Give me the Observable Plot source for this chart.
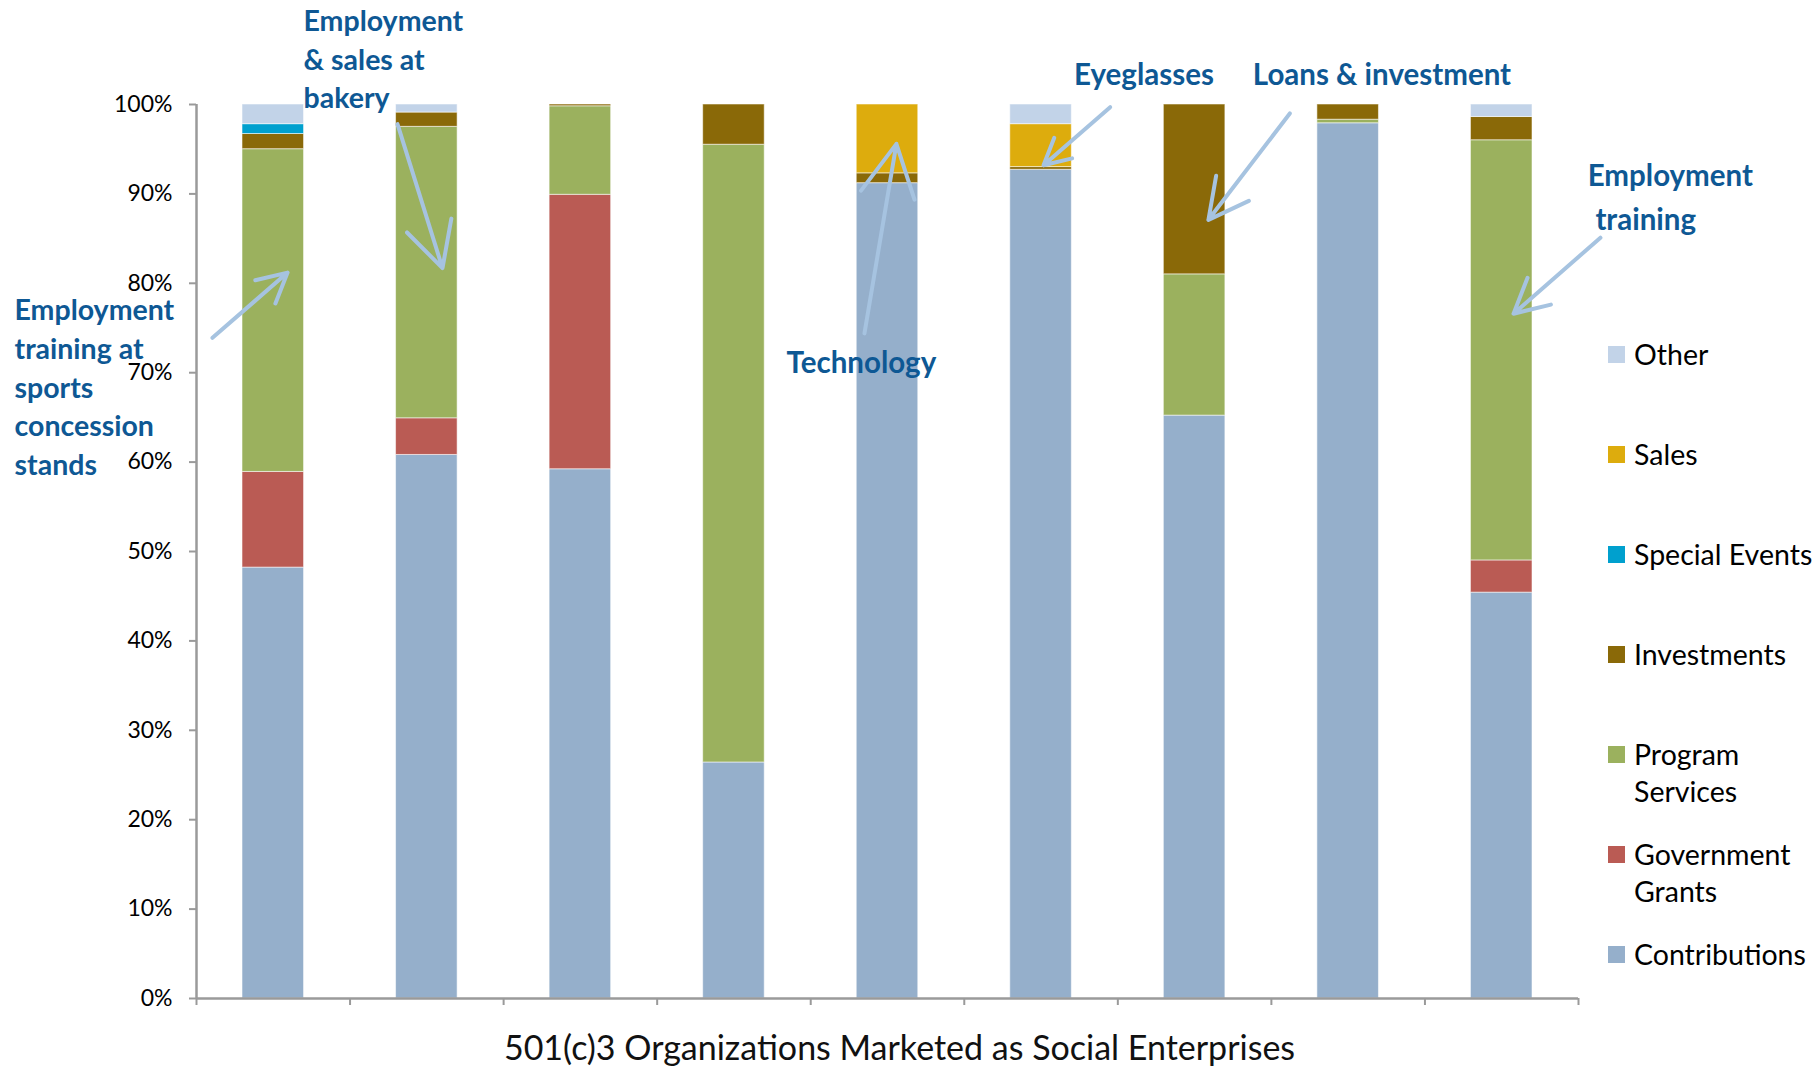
<!DOCTYPE html>
<html>
<head>
<meta charset="utf-8">
<script src="https://cdn.jsdelivr.net/npm/d3@7"></script>
<script src="https://cdn.jsdelivr.net/npm/@observablehq/plot@0.6"></script>
<style>
  html, body { margin: 0; padding: 0; background: #fff; }
  #wrap { position: relative; width: 1818px; height: 1068px; overflow: hidden; }
  #legend { position: absolute; left: 1608px; top: 0; font-family: Lato, "Open Sans", sans-serif; font-size: 28.5px; color: #000; }
  .item { position: absolute; left: 0; width: 210px; }
  .sw { position: absolute; left: 0; width: 17px; height: 17px; }
  .lb { position: absolute; left: 26px; line-height: 37px; white-space: pre; }
</style>
</head>
<body>
<div id="wrap"></div>
<script>
// ---- data (percent of revenue) ----
const organizations = [0, 1, 2, 3, 4, 5, 6, 7, 8];
const seriesNames = ["Contributions", "Government Grants", "Program Services", "Investments", "Special Events", "Sales", "Other"];
const contributions    = [48.2, 60.8, 59.2, 26.4, 91.2, 92.7, 65.2, 97.9, 45.4];
const governmentGrants = [10.7,  4.1, 30.7,  0,    0,    0,    0,    0,    3.6];
const programServices  = [36.1, 32.6,  9.9, 69.1,  0,    0,   15.8,  0.4, 47.0];
const investments      = [ 1.7,  1.6,  0.2,  4.5,  1.1,  0.3, 19.0,  1.7,  2.6];
const specialEvents    = [ 1.1,  0,    0,    0,    0,    0,    0,    0,    0  ];
const sales            = [ 0,    0,    0,    0,    7.7,  4.8,  0,    0,    0  ];
const other            = [ 2.2,  0.9,  0,    0,    0,    2.2,  0,    0,    1.4];
const yTicks = [0, 10, 20, 30, 40, 50, 60, 70, 80, 90, 100];
const xAxisTitle = "501(c)3 Organizations Marketed as Social Enterprises";
const legendLabels = ["Other", "Sales", "Special Events", "Investments", "Program\nServices", "Government\nGrants", "Contributions"];
const legendSeries = ["Other", "Sales", "Special Events", "Investments", "Program Services", "Government Grants", "Contributions"];

// annotation labels and arrows (in data units: organization index, percent)
const notesMulti = [
  {text: "Employment\ntraining at\nsports\nconcession\nstands", x: -1.185, y: 68.6},
  {text: "Employment\n& sales at\nbakery", x: 0.697, y: 105.3}
];
const notesSingleLeft = [
  {text: "Employment", x: 9.06, y: 91.9},
  {text: "training", x: 9.11, y: 87.0}
];
const notesSingle = [
  {text: "Technology", x: 4.33, y: 71.0},
  {text: "Eyeglasses", x: 6.17, y: 103.2},
  {text: "Loans & investment", x: 7.72, y: 103.2}
];
const arrows = [
  {x1: 0.104, y1: 73.9, x2: 0.593, y2: 81.2},
  {x1: 1.309, y1: 97.8, x2: 1.602, y2: 81.7},
  {x1: 4.35,  y1: 74.4, x2: 4.558, y2: 95.6},
  {x1: 5.95,  y1: 99.7, x2: 5.516, y2: 93.2},
  {x1: 7.12,  y1: 99.0, x2: 6.59,  y2: 87.1},
  {x1: 9.143, y1: 85.1, x2: 8.577, y2: 76.6}
];

const colors = {
  "Contributions": "#95AFCB",
  "Government Grants": "#BA5B54",
  "Program Services": "#9BB15E",
  "Investments": "#8A6908",
  "Special Events": "#00A0CE",
  "Sales": "#DDAC0D",
  "Other": "#C2D3E8"
};

const seriesValues = [contributions, governmentGrants, programServices, investments, specialEvents, sales, other];
const tidy = [];
seriesNames.forEach((name, s) => {
  organizations.forEach((org, i) => {
    const v = seriesValues[s][i];
    if (v > 0) tidy.push({org, series: name, value: v});
  });
});

const noteColor = "#0E5894";
const arrowColor = "#A6C3E0";
const axisColor = "#9A9A9A";

const chart = Plot.plot({
  width: 1818,
  height: 1068,
  marginLeft: 196,
  marginRight: 240,
  marginTop: 104,
  marginBottom: 70,
  style: {fontFamily: "Lato, 'Open Sans', sans-serif", background: "white", overflow: "visible"},
  x: {type: "linear", domain: [0, 9]},
  y: {domain: [0, 100]},
  color: {domain: seriesNames, range: seriesNames.map(n => colors[n])},
  marks: [
    Plot.rectY(tidy, {x: "org", interval: 1, y: "value", fill: "series", insetLeft: 46, insetRight: 46,
      stroke: "white", strokeOpacity: 0.55, strokeWidth: 1}),
    Plot.axisY({ticks: yTicks, tickSize: 7, tickPadding: 17, tickFormat: d => d + "%", fontSize: 23,
      stroke: axisColor, strokeWidth: 2, fill: "#000", label: null}),
    Plot.axisX({ticks: d3.range(0, 10), tickSize: 7, tickFormat: () => "", stroke: axisColor, strokeWidth: 2, label: null}),
    Plot.ruleX([0], {stroke: axisColor, strokeWidth: 2.5}),
    Plot.ruleY([0], {stroke: axisColor, strokeWidth: 2.5}),
    Plot.text([xAxisTitle], {frameAnchor: "bottom", dx: 12, dy: 61, fontSize: 34, fill: "#111"}),
    Plot.arrow(arrows, {x1: "x1", y1: "y1", x2: "x2", y2: "y2", stroke: arrowColor, strokeWidth: 4, headLength: 22, headAngle: 55}),
    Plot.text(notesMulti, {x: "x", y: "y", text: "text", textAnchor: "start", lineHeight: 1.36, fontSize: 28.5, fontWeight: "bold", fill: noteColor}),
    Plot.text(notesSingleLeft, {x: "x", y: "y", text: "text", textAnchor: "start", fontSize: 29.5, fontWeight: "bold", fill: noteColor}),
    Plot.text(notesSingle, {x: "x", y: "y", text: "text", fontSize: 29.5, fontWeight: "bold", fill: noteColor})
  ]
});
document.getElementById("wrap").appendChild(chart);

// legend
const legend = document.createElement("div");
legend.id = "legend";
legendLabels.forEach((label, i) => {
  const center = 354 + i * 100;
  const item = document.createElement("div");
  item.className = "item";
  const sw = document.createElement("div");
  sw.className = "sw";
  sw.style.top = (center - 8.5) + "px";
  sw.style.background = colors[legendSeries[i]];
  const lb = document.createElement("div");
  lb.className = "lb";
  lb.style.top = (center - 18.5) + "px";
  lb.textContent = label;
  item.appendChild(sw);
  item.appendChild(lb);
  legend.appendChild(item);
});
document.getElementById("wrap").appendChild(legend);
</script>
</body>
</html>
